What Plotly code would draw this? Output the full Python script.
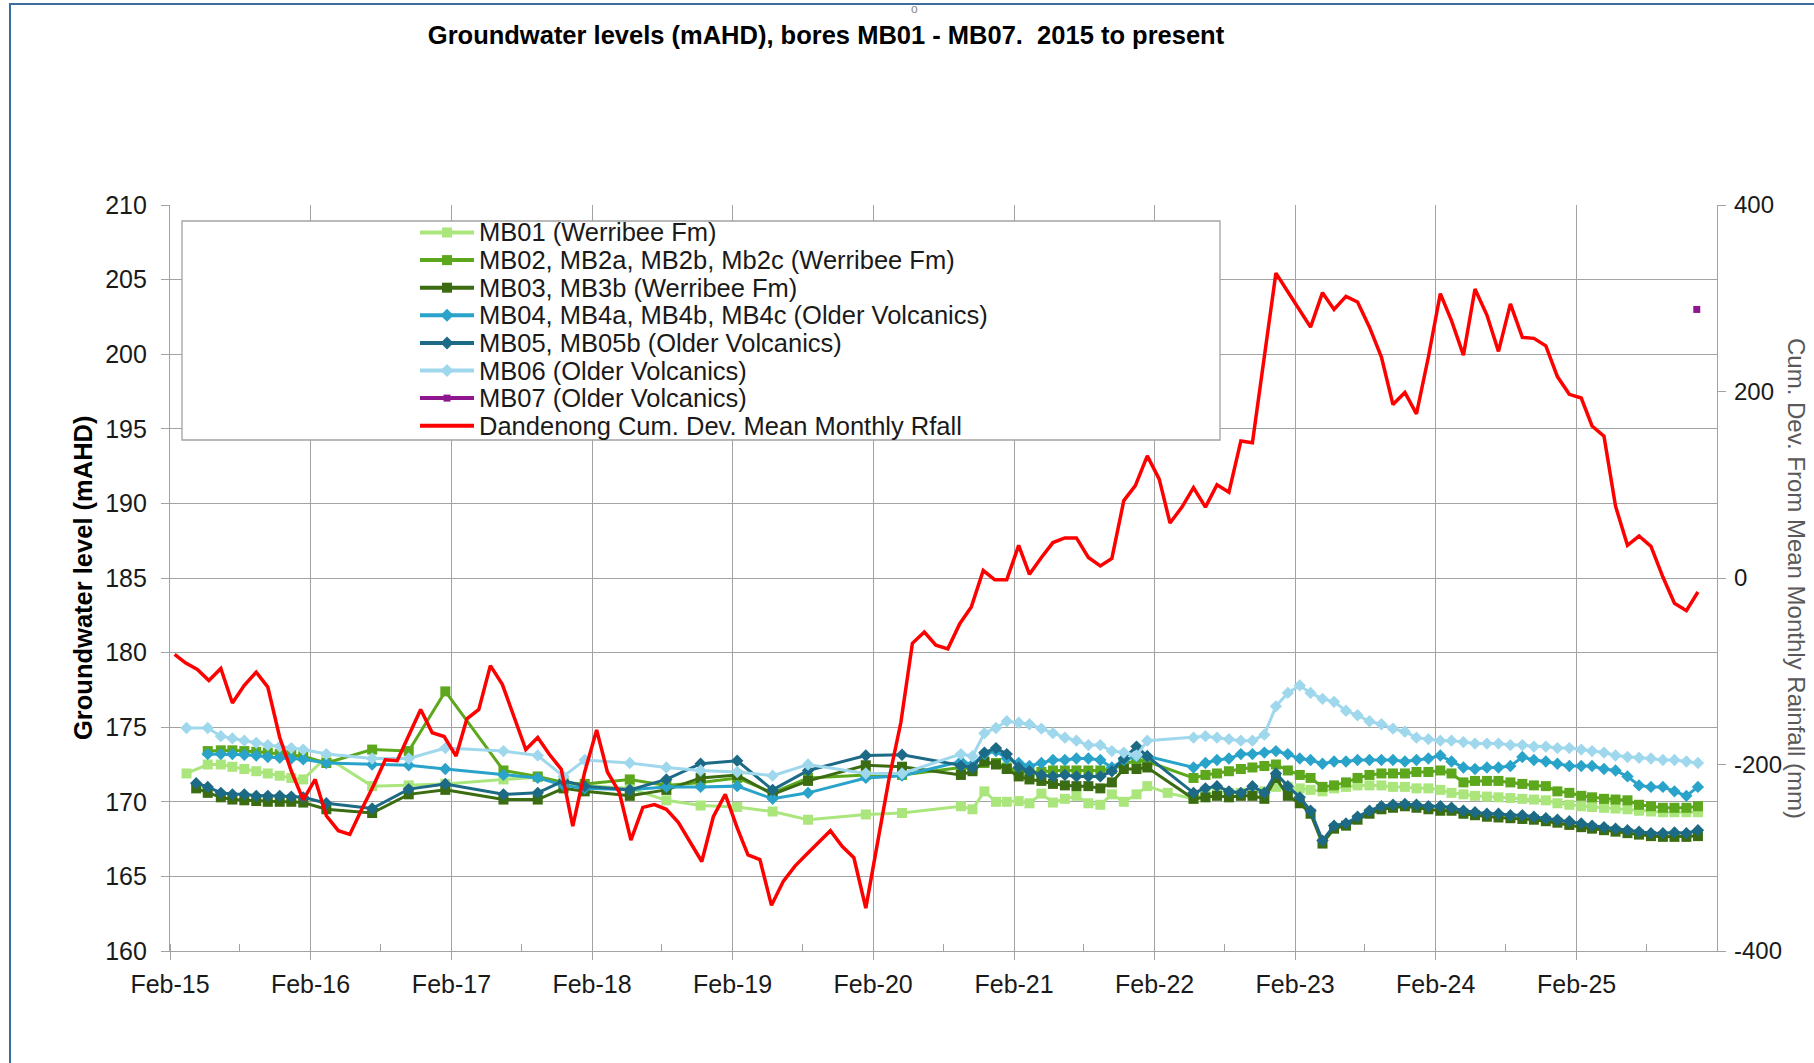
import pandas as pd
import plotly.graph_objects as go

FONT = "Liberation Sans, Arial, sans-serif"
GRID = "#a3a3a3"

# ---------------------------------------------------------------------------
# Water-level monitoring rounds: irregular rounds up to early 2022, then monthly
# ---------------------------------------------------------------------------
early_rounds = [
    "2015-03-16", "2015-04-10", "2015-05-10", "2015-06-13", "2015-07-13",
    "2015-08-13", "2015-09-13", "2015-10-13", "2015-11-13", "2015-12-13",
    "2016-01-13", "2016-03-13", "2016-07-10", "2016-10-13", "2017-01-16",
    "2017-06-16", "2017-09-13", "2017-11-19", "2018-01-13", "2018-05-10",
    "2018-08-13", "2018-11-10", "2019-02-13", "2019-05-16", "2019-08-16",
    "2020-01-13", "2020-04-16", "2020-09-16", "2020-10-16", "2020-11-16",
    "2020-12-16", "2021-01-13", "2021-02-13", "2021-03-13", "2021-04-13",
    "2021-05-13", "2021-06-13", "2021-07-13", "2021-08-13", "2021-09-13",
    "2021-10-13", "2021-11-13", "2021-12-16", "2022-01-13", "2022-03-07",
]
monthly_rounds = pd.date_range("2022-05-13", "2025-12-13", freq=pd.DateOffset(months=1))
survey_dates = list(pd.to_datetime(early_rounds)) + list(monthly_rounds)

# Groundwater levels (mAHD); None = bore not read in that round
mb01 = [
    171.9, None, 172.5, 172.5, 172.35, 172.2, 172.05, 171.9, 171.75, 171.6,
    171.5, 173.0, 171.05, 171.1, 171.2, 171.5, 171.65, 171.2, 171.1, 170.9,
    170.1, 169.75, 169.65, 169.35, 168.8, 169.15, 169.25, 169.7, 169.5, 170.7,
    170.0, 170.0, 170.05, 169.9, 170.55, 169.95, 170.2, 170.4, 169.9, 169.8,
    170.5, 170.0, 170.5, 171.05, 170.6,
    170.2, 170.5, 170.6, 170.6, 170.6, 170.7, 170.7, 171.0,
    171.0, 170.9, 170.8, 170.7, 170.9, 171.0, 171.1, 171.1, 171.1, 171.0, 171.0, 170.9,
    170.9, 170.8, 170.6, 170.5, 170.4, 170.35, 170.3, 170.25, 170.2, 170.15, 170.1, 169.9,
    169.8, 169.7, 169.65, 169.6, 169.55, 169.5, 169.4, 169.35, 169.3, 169.3, 169.3, 169.3,
]
mb02 = [
    None, None, 173.4, 173.45, 173.45, 173.4, 173.35, 173.3, 173.2, 173.15,
    173.05, 172.6, 173.5, 173.4, 177.4, 172.1, 171.7, 171.3, 171.2, 171.5,
    171.1, 171.3, 171.6, 170.6, 171.6, 171.8, 171.8, 172.3, 172.2, 172.6,
    172.6, 172.3, 172.05, 172.0, 172.0, 172.1, 172.1, 172.1, 172.1, 172.1,
    172.2, 172.5, 172.8, 172.7, None,
    171.6, 171.8, 171.9, 172.05, 172.2, 172.3, 172.4, 172.5,
    172.1, 171.8, 171.6, 171.0, 171.1, 171.3, 171.6, 171.8, 171.9, 171.9, 171.9, 172.0,
    172.0, 172.1, 171.9, 171.3, 171.4, 171.4, 171.4, 171.3, 171.2, 171.1, 171.05, 170.7,
    170.6, 170.4, 170.3, 170.2, 170.15, 170.1, 169.8, 169.7, 169.6, 169.6, 169.6, 169.7,
]
mb03 = [
    None, 170.9, 170.6, 170.3, 170.15, 170.1, 170.05, 170.0, 170.0, 170.0,
    169.95, 169.5, 169.25, 170.5, 170.8, 170.15, 170.15, 170.9, 170.7, 170.4,
    170.8, 171.6, 171.8, 170.5, 171.4, 172.45, 172.35, 171.8, 172.05, 172.7,
    172.5, 172.2, 171.7, 171.5, 171.4, 171.2, 171.1, 171.05, 171.05, 170.9,
    171.3, 172.2, 172.2, 172.3, None,
    170.2, 170.3, 170.4, 170.3, 170.4, 170.4, 170.2, 171.6,
    170.4, 169.9, 169.2, 167.2, 168.2, 168.4, 168.8, 169.2, 169.5, 169.6, 169.7, 169.6,
    169.5, 169.4, 169.4, 169.2, 169.1, 169.0, 168.95, 168.9, 168.85, 168.8, 168.7, 168.6,
    168.45, 168.3, 168.2, 168.1, 168.0, 167.9, 167.8, 167.7, 167.65, 167.65, 167.65, 167.7,
]
mb04 = [
    None, None, 173.2, 173.2, 173.2, 173.15, 173.1, 173.0, 172.95, 172.9,
    172.85, 172.6, 172.5, 172.45, 172.2, 171.8, 171.6, 171.1, 170.9, 170.8,
    171.0, 171.0, 171.05, 170.2, 170.6, 171.6, 171.75, 172.7, 172.5, 173.2,
    173.4, 172.9, 172.6, 172.4, 172.6, 172.8, 172.8, 172.9, 172.9, 172.8,
    172.3, 172.8, 173.05, 173.05, None,
    172.3, 172.6, 172.8, 172.9, 173.2, 173.2, 173.3, 173.4,
    173.2, 172.9, 172.8, 172.55, 172.7, 172.7, 172.8, 172.8, 172.8, 172.8, 172.7, 172.8,
    172.9, 173.1, 172.7, 172.3, 172.2, 172.3, 172.3, 172.4, 173.0, 172.8, 172.7, 172.55,
    172.4, 172.4, 172.4, 172.2, 172.1, 171.7, 171.1, 171.0, 171.0, 170.7, 170.4, 171.0,
]
mb05 = [
    None, 171.25, 171.0, 170.6, 170.5, 170.5, 170.4, 170.4, 170.4, 170.35,
    170.3, 169.9, 169.55, 170.85, 171.2, 170.5, 170.6, 171.4, 171.05, 170.8,
    171.5, 172.55, 172.75, 170.8, 172.1, 173.1, 173.15, 172.4, 172.3, 173.3,
    173.6, 173.2, 172.3, 172.05, 171.8, 171.7, 171.8, 171.7, 171.7, 171.7,
    172.05, 172.9, 173.7, 173.05, None,
    170.6, 170.9, 171.05, 170.7, 170.6, 171.05, 170.6, 171.9,
    171.05, 170.3, 169.4, 167.4, 168.4, 168.55, 169.0, 169.4, 169.7, 169.8, 169.85, 169.8,
    169.7, 169.7, 169.6, 169.4, 169.3, 169.2, 169.2, 169.1, 169.1, 169.0, 168.9, 168.8,
    168.7, 168.55, 168.4, 168.3, 168.2, 168.1, 168.0, 167.9, 167.9, 167.95, 167.9, 168.1,
]
mb06 = [
    174.95, None, 174.95, 174.4, 174.25, 174.1, 173.95, 173.8, 173.7, 173.6,
    173.5, 173.2, 172.9, 172.9, 173.6, 173.4, 173.1, 171.7, 172.8, 172.6,
    172.3, 172.1, 172.0, 171.75, 172.5, 171.9, 171.9, 173.2, 173.05, 174.6,
    174.95, 175.4, 175.3, 175.2, 174.9, 174.6, 174.3, 174.1, 173.8, 173.8,
    173.4, 173.3, 173.1, 174.1, None,
    174.3, 174.4, 174.3, 174.2, 174.1, 174.1, 174.5, 176.4,
    177.3, 177.8, 177.3, 176.9, 176.7, 176.1, 175.8, 175.4, 175.2, 174.9, 174.7, 174.3,
    174.2, 174.1, 174.1, 174.0, 173.9, 173.9, 173.9, 173.8, 173.8, 173.7, 173.7, 173.6,
    173.6, 173.5, 173.4, 173.3, 173.1, 173.0, 172.95, 172.9, 172.8, 172.8, 172.7, 172.6,
]
mb07_dates = ["2025-12-10"]
mb07 = [203.0]

# Dandenong cumulative deviation from mean monthly rainfall (mm), Feb 2015 onward
rain_cumdev = [
    -82, -91, -98, -110, -97, -134, -115, -101, -117, -171,
    -207, -238, -216, -255, -271, -275, -248, -223, -195, -196,
    -169, -141, -166, -170, -191, -151, -141, -94, -114, -148,
    -184, -171, -189, -205, -266, -208, -163, -208, -230, -281,
    -246, -243, -248, -262, -283, -304, -256, -232, -268, -297,
    -302, -351, -325, -309, -296, -283, -271, -288, -300, -354,
    -283, -216, -155, -70, -58, -72, -76, -49, -31, 8,
    -2, -2, 35, 4, 22, 38, 43, 43, 22, 13,
    21, 83, 99, 131, 106, 59, 76, 97, 76, 100,
    92, 147, 145, 237, 327, 307, 287, 269, 306, 288,
    302, 296, 269, 237, 186, 199, 176, 237, 305, 276,
    239, 310, 282, 243, 294, 258, 257, 249, 216, 197,
    193, 163, 152, 77, 35, 45, 34, 1, -27, -35,
    -15,
]
rain_dates = pd.date_range("2015-02-13", periods=len(rain_cumdev), freq=pd.DateOffset(months=1))

# right-axis tick values and their labels (plain hyphen for negatives)
rain_ticks = [-400, -200, 0, 200, 400]
rain_tick_text = ["-400", "-200", "0", "200", "400"]

# name, values, colour, marker symbol, marker size
bores = [
    ("MB01 (Werribee Fm)", mb01, "#abe67d", "square", 10),
    ("MB02, MB2a, MB2b, Mb2c (Werribee Fm)", mb02, "#5ca71b", "square", 10),
    ("MB03, MB3b (Werribee Fm)", mb03, "#3b6c12", "square", 10),
    ("MB04, MB4a, MB4b, MB4c (Older Volcanics)", mb04, "#29a3c9", "diamond", 9.5),
    ("MB05, MB05b (Older Volcanics)", mb05, "#1d6a86", "diamond", 9.5),
    ("MB06 (Older Volcanics)", mb06, "#9fd8ec", "diamond", 9.5),
]
MB07_NAME, MB07_COLOR = "MB07 (Older Volcanics)", "#8e168e"
RAIN_NAME, RAIN_COLOR = "Dandenong Cum. Dev. Mean Monthly Rfall", "#ff0000"

fig = go.Figure()
for name, vals, color, symbol, msize in bores:
    fig.add_trace(go.Scatter(
        x=survey_dates, y=vals, name=name, mode="lines+markers",
        connectgaps=True, showlegend=False,
        line=dict(color=color, width=3),
        marker=dict(symbol=symbol, size=msize, color=color),
    ))
fig.add_trace(go.Scatter(
    x=pd.to_datetime(mb07_dates), y=mb07, name=MB07_NAME, mode="markers",
    showlegend=False, marker=dict(symbol="square", size=7, color=MB07_COLOR),
))
fig.add_trace(go.Scatter(
    x=rain_dates, y=rain_cumdev, name=RAIN_NAME, mode="lines", yaxis="y2",
    showlegend=False, line=dict(color=RAIN_COLOR, width=3.5),
))

# ---------------------------------------------------------------------------
# Layout geometry (pixels) of the plotting area
# ---------------------------------------------------------------------------
W, H = 1814, 1063
PL, PR, PT, PB = 170, 1717, 205, 951


def px_x(px):
    return (px - PL) / (PR - PL)


def px_y(py):
    return (PB - py) / (PB - PT)


tickfont = dict(family=FONT, size=25, color="#1a1a1a")

shapes = []
annotations = []

# outer frame of the chart object
shapes.append(dict(type="line", xref="paper", yref="paper",
                   x0=px_x(10), x1=px_x(10), y0=px_y(H), y1=px_y(3),
                   line=dict(color="#3b6e9e", width=2), layer="above"))
shapes.append(dict(type="line", xref="paper", yref="paper",
                   x0=px_x(10), x1=px_x(W), y0=px_y(4), y1=px_y(4),
                   line=dict(color="#3b6e9e", width=2), layer="above"))

# legend box
shapes.append(dict(type="rect", xref="paper", yref="paper",
                   x0=px_x(182), x1=px_x(1220), y0=px_y(440), y1=px_y(221),
                   line=dict(color=GRID, width=1.3), fillcolor="white", layer="above"))

legend_items = [(n, c, s) for n, _, c, s, _ in bores]
legend_items.append((MB07_NAME, MB07_COLOR, "small"))
legend_items.append((RAIN_NAME, RAIN_COLOR, None))

for i, (name, color, symbol) in enumerate(legend_items):
    yc = 232.5 + 27.6 * i
    shapes.append(dict(type="line", xref="paper", yref="paper",
                       x0=px_x(420), x1=px_x(474), y0=px_y(yc), y1=px_y(yc),
                       line=dict(color=color, width=4), layer="above"))
    cx = 447
    if symbol == "square":
        shapes.append(dict(type="rect", xref="paper", yref="paper",
                           x0=px_x(cx - 5), x1=px_x(cx + 5), y0=px_y(yc + 5), y1=px_y(yc - 5),
                           line=dict(width=0), fillcolor=color, layer="above"))
    elif symbol == "small":
        shapes.append(dict(type="rect", xref="paper", yref="paper",
                           x0=px_x(cx - 3.5), x1=px_x(cx + 3.5), y0=px_y(yc + 3.5), y1=px_y(yc - 3.5),
                           line=dict(width=0), fillcolor=color, layer="above"))
    elif symbol == "diamond":
        d = 6.5
        path = (f"M {px_x(cx - d)} {px_y(yc)} L {px_x(cx)} {px_y(yc - d)} "
                f"L {px_x(cx + d)} {px_y(yc)} L {px_x(cx)} {px_y(yc + d)} Z")
        shapes.append(dict(type="path", xref="paper", yref="paper", path=path,
                           line=dict(width=0), fillcolor=color, layer="above"))
    annotations.append(dict(xref="paper", yref="paper", x=px_x(477), y=px_y(yc),
                            xanchor="left", yanchor="middle", showarrow=False,
                            text=name, font=dict(family=FONT, size=25.5, color="#1a1a1a")))

# axis titles
annotations.append(dict(xref="paper", yref="paper", x=px_x(83), y=0.5,
                        xanchor="center", yanchor="middle", showarrow=False, textangle=-90,
                        text="<b>Groundwater level (mAHD)</b>",
                        font=dict(family=FONT, size=25.5, color="#000000")))
annotations.append(dict(xref="paper", yref="paper", x=px_x(1797), y=0.5,
                        xanchor="center", yanchor="middle", showarrow=False, textangle=90,
                        text="Cum. Dev. From Mean Monthly Rainfall (mm)",
                        font=dict(family=FONT, size=24, color="#595959")))
# small grey glyph sitting on the top edge of the frame
annotations.append(dict(xref="paper", yref="paper", x=px_x(914), y=px_y(9),
                        xanchor="center", yanchor="middle", showarrow=False,
                        text="o", font=dict(family=FONT, size=12, color="#8a8a8a")))

fig.update_layout(
    width=W, height=H,
    margin=dict(l=PL, r=W - PR, t=PT, b=H - PB, pad=0),
    paper_bgcolor="white", plot_bgcolor="white",
    showlegend=False,
    title=dict(
        text="<b>Groundwater levels (mAHD), bores MB01 - MB07.\u00a0 2015 to present</b>",
        x=826 / W, xanchor="center", y=1 - 35 / H, yanchor="middle",
        font=dict(family=FONT, size=25.5, color="#000000"),
    ),
    xaxis=dict(
        type="date", range=["2015-02-01", "2026-01-31 12:00"],
        tick0="2015-02-01", dtick="M12", tickformat="%b-%y",
        showgrid=True, gridcolor=GRID, gridwidth=1.3,
        showline=True, linecolor=GRID, linewidth=1.3,
        ticks="outside", ticklen=8, tickcolor=GRID, tickwidth=1.3,
        ticklabelstandoff=3, tickfont=tickfont, zeroline=False,
        minor=dict(ticks="inside", ticklen=7, tickcolor=GRID, tickwidth=1.3,
                   dtick="M6", tick0="2015-02-01", showgrid=False),
    ),
    yaxis=dict(
        range=[160, 210], dtick=5, tick0=160,
        showgrid=True, gridcolor=GRID, gridwidth=1.3,
        showline=True, linecolor=GRID, linewidth=1.3, zeroline=False,
        ticks="outside", ticklen=8, tickcolor=GRID, tickwidth=1.3,
        ticklabelstandoff=9, tickfont=tickfont,
    ),
    yaxis2=dict(
        overlaying="y", side="right", range=[-400, 400],
        tickmode="array", tickvals=rain_ticks, ticktext=rain_tick_text,
        showgrid=False, zeroline=False,
        showline=True, linecolor=GRID, linewidth=1.3,
        ticks="outside", ticklen=8, tickcolor=GRID, tickwidth=1.3,
        ticklabelstandoff=3, tickfont=dict(family=FONT, size=24, color="#1a1a1a"),
    ),
    shapes=shapes,
    annotations=annotations,
)

fig.write_html("out.html")
